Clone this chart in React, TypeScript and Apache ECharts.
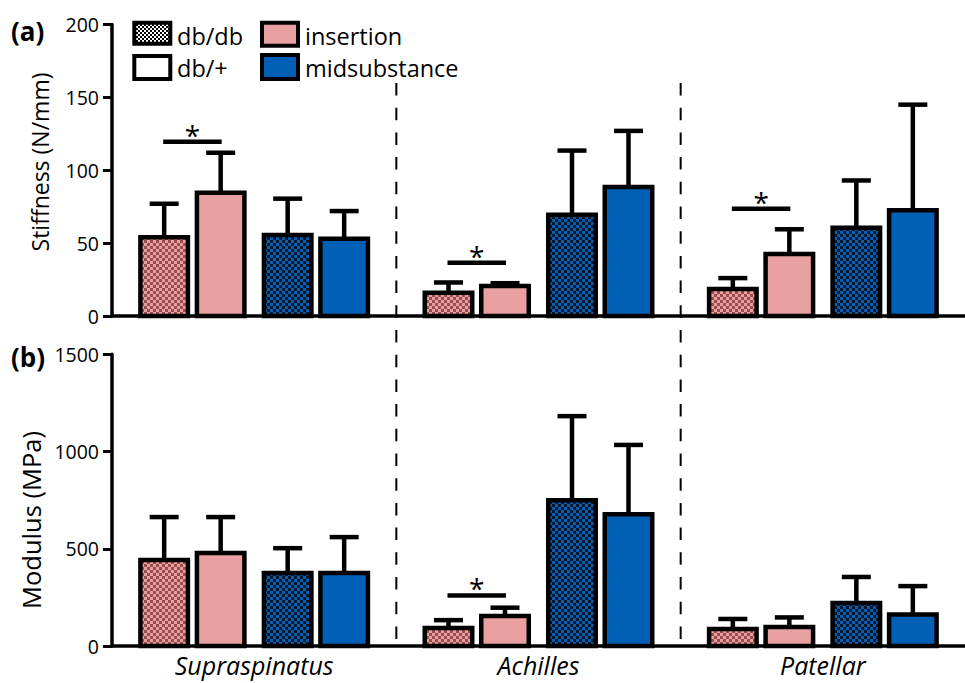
import React, { useEffect, useRef } from 'react';
import * as echarts from 'echarts';

// ---------- data ----------
const categories = ['Supraspinatus', 'Achilles', 'Patellar'];

// Panel (a) stiffness (N/mm): mean and upper SD
const stiffDbdbIns = [54, 16, 18.5];
const stiffDbdbInsSD = [23, 7, 7.5];
const stiffDbpIns = [84.5, 20.5, 42.5];
const stiffDbpInsSD = [27.5, 2, 17];
const stiffDbdbMid = [55.5, 69.5, 60.5];
const stiffDbdbMidSD = [25, 44, 32.5];
const stiffDbpMid = [53, 88.5, 72.5];
const stiffDbpMidSD = [19, 38.5, 72.5];
const stiffSigGroups = [0, 1, 2];
const stiffSigLevels = [119.5, 36.5, 73.5];

// Panel (b) modulus (MPa)
const modDbdbIns = [442, 92, 87];
const modDbdbInsSD = [221, 41, 52];
const modDbpIns = [478, 154, 98];
const modDbpInsSD = [185, 43, 49];
const modDbdbMid = [375, 750, 221];
const modDbdbMidSD = [128, 432, 134];
const modDbpMid = [375, 678, 162];
const modDbpMidSD = [185, 356, 146];
const modSigGroups = [1];
const modSigLevels = [260];

const stiffTicks = { min: 0, max: 200, interval: 50 };
const modTicks = { min: 0, max: 1500, interval: 500 };

// ---------- style ----------
const FONT = "'Open Sans', sans-serif";
const PINK = '#e8a0a0';
const BLUE = '#0060b6';
const BAR_OFFSETS = [-90, -33.5, 33.5, 90];
const BAR_W = 47.5;
const LW = 4.5;

function checker(bg: string, fg: string, size: number) {
  const c = document.createElement('canvas');
  c.width = size * 2;
  c.height = size * 2;
  const ctx = c.getContext('2d')!;
  ctx.fillStyle = bg;
  ctx.fillRect(0, 0, size * 2, size * 2);
  ctx.fillStyle = fg;
  ctx.fillRect(0, 0, size, size);
  ctx.fillRect(size, size, size, size);
  return { image: c.toDataURL(), repeat: 'repeat', imageWidth: size * 2, imageHeight: size * 2 };
}

export default function App() {
  const ref = useRef<HTMLDivElement>(null);
  useEffect(() => {
    if (!ref.current) return;
    const chart = echarts.init(ref.current, undefined, { renderer: 'svg' });

    const pinkHatch = checker(PINK, '#9a4c4c', 3);
    const blueHatch = checker(BLUE, '#0d1526', 3);
    const legendHatch = checker('#ffffff', '#000000', 2);
    const fills = [pinkHatch, PINK, blueHatch, BLUE];

    const barSeries = (panel: number, k: number, means: number[], sds: number[]) => ({
      type: 'custom',
      xAxisIndex: panel,
      yAxisIndex: panel,
      z: 3,
      data: means.map((m, i) => [i, m, sds[i]]),
      encode: { x: 0, y: 1 },
      renderItem: (params: any, api: any) => {
        const ci = api.value(0);
        const v = api.value(1);
        const sd = api.value(2);
        const base = api.coord([ci, 0]);
        const top = api.coord([ci, v]);
        const et = api.coord([ci, v + sd]);
        const cx = base[0] + BAR_OFFSETS[k];
        return {
          type: 'group',
          children: [
            { type: 'line', shape: { x1: cx, y1: top[1], x2: cx, y2: et[1] }, style: { stroke: '#000', lineWidth: LW } },
            { type: 'line', shape: { x1: cx - 14.5, y1: et[1], x2: cx + 14.5, y2: et[1] }, style: { stroke: '#000', lineWidth: LW } },
            {
              type: 'rect',
              shape: { x: cx - BAR_W / 2, y: top[1], width: BAR_W, height: base[1] - top[1] },
              style: { fill: fills[k], stroke: '#000', lineWidth: LW },
            },
          ],
        };
      },
    });

    const sigSeries = (panel: number, groups: number[], levels: number[]) => ({
      type: 'custom',
      xAxisIndex: panel,
      yAxisIndex: panel,
      z: 4,
      data: groups.map((g, i) => [g, levels[i]]),
      encode: { x: 0, y: 1 },
      renderItem: (params: any, api: any) => {
        const p = api.coord([api.value(0), api.value(1)]);
        const x1 = p[0] + BAR_OFFSETS[0] - 1;
        const x2 = p[0] + BAR_OFFSETS[1] + 1;
        return {
          type: 'group',
          children: [
            { type: 'line', shape: { x1, y1: p[1], x2, y2: p[1] }, style: { stroke: '#000', lineWidth: LW } },
            {
              type: 'text',
              x: (x1 + x2) / 2,
              y: p[1] - 7,
              style: { text: '*', fontSize: 28, fontFamily: FONT, fill: '#000', align: 'center', verticalAlign: 'middle' },
            },
          ],
        };
      },
    });

    const dashSeries = {
      type: 'custom',
      xAxisIndex: 1,
      yAxisIndex: 1,
      z: 1,
      data: [[1, 0], [2, 0]],
      encode: { x: 0, y: 1 },
      renderItem: (params: any, api: any) => {
        const c = api.coord([api.value(0), 0]);
        const band = api.size([1, 0])[0];
        const x = c[0] - band / 2;
        return {
          type: 'line',
          shape: { x1: x, y1: 83, x2: x, y2: c[1] + 3 },
          style: { stroke: '#000', lineWidth: 2, lineDash: [12.5, 12.2] },
        };
      },
    };

    const xAxisBase = (grid: number, showLabel: boolean) => ({
      type: 'category',
      gridIndex: grid,
      data: categories,
      boundaryGap: true,
      axisLine: { lineStyle: { color: '#000', width: 3.5 } },
      axisTick: { show: false },
      axisLabel: {
        show: showLabel,
        margin: 6,
        fontSize: 25,
        fontStyle: 'italic',
        fontFamily: FONT,
        color: '#000',
      },
    });

    const yAxisBase = (grid: number, t: any) => ({
      type: 'value',
      gridIndex: grid,
      min: t.min,
      max: t.max,
      interval: t.interval,
      axisLine: { show: true, lineStyle: { color: '#000', width: 3.5 } },
      axisTick: { show: true, length: 9, lineStyle: { color: '#000', width: 3 } },
      axisLabel: { margin: 13, fontSize: 19.5, fontFamily: FONT, color: '#000', formatter: (v: number) => String(v) },
      splitLine: { show: false },
    });

    const legendText = (text: string, x: number, y: number) => ({
      type: 'text',
      x,
      y,
      style: { text, fontSize: 23.5, fontFamily: FONT, fill: '#000', align: 'left', verticalAlign: 'middle' },
    });

    chart.setOption({
      animation: false,
      backgroundColor: '#ffffff',
      grid: [
        { left: 112, top: 24.5, width: 857, height: 291.5 },
        { left: 112, top: 354.3, width: 857, height: 291.7 },
      ],
      xAxis: [xAxisBase(0, false), xAxisBase(1, true)],
      yAxis: [yAxisBase(0, stiffTicks), yAxisBase(1, modTicks)],
      series: [
        dashSeries,
        barSeries(0, 0, stiffDbdbIns, stiffDbdbInsSD),
        barSeries(0, 1, stiffDbpIns, stiffDbpInsSD),
        barSeries(0, 2, stiffDbdbMid, stiffDbdbMidSD),
        barSeries(0, 3, stiffDbpMid, stiffDbpMidSD),
        sigSeries(0, stiffSigGroups, stiffSigLevels),
        barSeries(1, 0, modDbdbIns, modDbdbInsSD),
        barSeries(1, 1, modDbpIns, modDbpInsSD),
        barSeries(1, 2, modDbdbMid, modDbdbMidSD),
        barSeries(1, 3, modDbpMid, modDbpMidSD),
        sigSeries(1, modSigGroups, modSigLevels),
      ],
      graphic: [
        { type: 'text', x: 11, y: 31, style: { text: '(a)', fontSize: 26, fontWeight: 'bold', fontFamily: FONT, fill: '#000', verticalAlign: 'middle' } },
        { type: 'text', x: 11, y: 357, style: { text: '(b)', fontSize: 26, fontWeight: 'bold', fontFamily: FONT, fill: '#000', verticalAlign: 'middle' } },
        { type: 'text', x: 40, y: 162, rotation: Math.PI / 2, style: { text: 'Stiffness (N/mm)', fontSize: 23, fontFamily: FONT, fill: '#000', align: 'center', verticalAlign: 'middle' } },
        { type: 'text', x: 31, y: 520, rotation: Math.PI / 2, style: { text: 'Modulus (MPa)', fontSize: 25.5, fontFamily: FONT, fill: '#000', align: 'center', verticalAlign: 'middle' } },
        { type: 'rect', shape: { x: 134.3, y: 22.7, width: 36, height: 21 }, style: { fill: legendHatch, stroke: '#000', lineWidth: 4 } },
        { type: 'rect', shape: { x: 134.3, y: 56, width: 36, height: 23 }, style: { fill: '#fff', stroke: '#000', lineWidth: 4 } },
        { type: 'rect', shape: { x: 262, y: 22.7, width: 36, height: 23 }, style: { fill: PINK, stroke: '#000', lineWidth: 4 } },
        { type: 'rect', shape: { x: 262, y: 55, width: 36, height: 24 }, style: { fill: BLUE, stroke: '#000', lineWidth: 4 } },
        legendText('db/db', 177, 36),
        legendText('db/+', 177, 68),
        legendText('insertion', 305, 36),
        legendText('midsubstance', 305, 68),
      ],
    });

    return () => chart.dispose();
  }, []);

  return <div ref={ref} style={{ position: 'absolute', left: 0, top: 0, width: 965, height: 683 }} />;
}
